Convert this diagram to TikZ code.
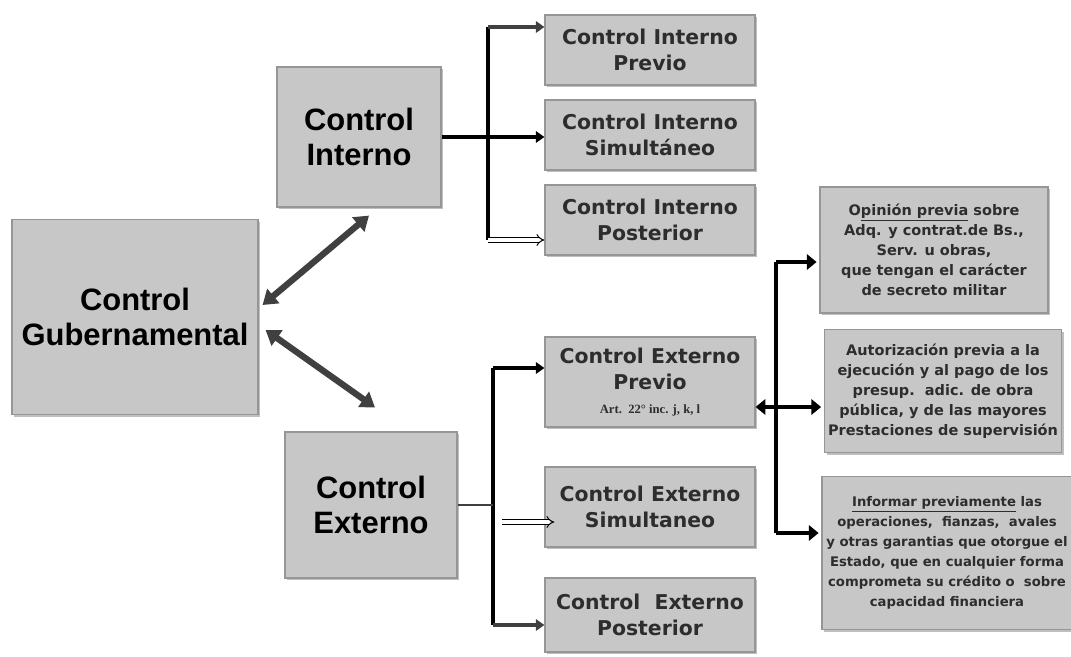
\documentclass[tikz,border=0pt]{standalone}
\usepackage{fontspec}
\setmainfont{Liberation Sans}
\newfontfamily\verd{DejaVu Sans}
\newfontfamily\tnr{Liberation Serif}
\usetikzlibrary{arrows.meta, shadows}
\definecolor{cajagris}{RGB}{199,199,199}
\definecolor{bordegris}{RGB}{150,150,150}
\definecolor{flechagris}{RGB}{64,64,64}
\definecolor{textogris}{RGB}{45,45,45}

\begin{document}
\begin{tikzpicture}[x=0.025cm, y=-0.025cm,
    caja/.style={draw=bordegris, fill=cajagris, line width=0.8pt, align=center, inner sep=2pt,
      drop shadow={shadow xshift=1.5pt, shadow yshift=-1.5pt, opacity=0.5}},
    grande/.style={caja, font=\fontsize{22}{25}\selectfont\bfseries},
    media/.style={caja, minimum width=5.25cm, text=textogris,
      font=\verd\fontsize{14.5}{19}\selectfont\bfseries},
    chica/.style={caja, text=textogris, font=\verd\fontsize{10.3}{14.2}\selectfont\bfseries},
    bus/.style={line width=2.8pt},
    flecha/.style={line width=2.2pt, -{Triangle[length=6pt,width=8pt]}},
    hueca/.style={double, double distance=2.2pt, line width=0.7pt, -{Implies}},
    gflecha/.style={line width=2.8pt, >={Triangle[length=7pt,width=11pt]}},
    diag/.style={flechagris, line width=4.5pt,
      {Triangle[length=10pt,width=13pt]}-{Triangle[length=10pt,width=13pt]}}]
    \useasboundingbox (0,0) rectangle (1071,657);
    % Cajas principales
    \node[grande, minimum width=6.15cm, minimum height=4.875cm] (gub) at (135,317) {Control\\Gubernamental};
    \node[grande, minimum width=4.1cm, minimum height=3.5cm] (ci) at (359,137) {Control\\Interno};
    \node[grande, minimum width=4.3cm, minimum height=3.65cm] (ce) at (371,505) {Control\\Externo};
    % Control interno
    \node[media, minimum height=1.75cm] (ciprev) at (650,50) {Control Interno\\Previo};
    \node[media, minimum height=1.75cm] (cisim) at (650,135) {Control Interno\\Simultáneo};
    \node[media, minimum height=1.75cm] (cipost) at (650,220) {Control Interno\\Posterior};
    % Control externo
    \node[media, minimum height=2.25cm] (ceprev) at (650,382)
        {Control Externo\\Previo\\[-2pt]{\tnr\fontsize{9}{11}\selectfont Art.\ \ 22° inc. j, k, l}};
    \node[media, minimum height=2cm] (cesim) at (650,507) {Control Externo\\Simultaneo};
    \node[media, minimum height=1.85cm] (cepost) at (650,615) {Control\ \ Externo\\Posterior};
    % Previo externo
    \node[chica, minimum width=5.7cm, minimum height=3.15cm] (opin) at (934,250)
        {O\underline{pinión previa} sobre\\Adq. y contrat.de Bs.,\\Serv. u obras,\\que tengan el carácter\\de secreto militar};
    \node[chica, minimum width=5.925cm, minimum height=3.075cm] (autor) at (943,391)
        {Autorización previa a la\\ejecución y al pago de los\\presup.\ \ adic. de obra\\pública, y de las mayores\\Prestaciones de supervisión};
    \node[chica, minimum width=6.25cm, minimum height=3.825cm, inner sep=0pt,
          font=\verd\fontsize{9.4}{14.2}\selectfont\bfseries] (inf) at (947,553)
        {\underline{Informar previamente} las\\operaciones,\ \ fianzas,\ \ avales\\y otras garantias que otorgue el\\Estado, que en cualquier forma\\comprometa su crédito o\ \ sobre\\capacidad financiera};
    % Flechas diagonales
    \draw[diag] ([shift={(4,-12)}]gub.east) -- ([shift={(10,8)}]ci.south);
    \draw[diag] ([shift={(7,13)}]gub.east) -- ([shift={(4,-24)}]ce.north);
    % Interno
    \coordinate (itop) at (488,27);
    \coordinate (ibot) at (488,240);
    \draw[bus] (itop) -- (ibot);
    \draw[flecha, flechagris] (itop) -- (itop -| ciprev.west);
    \draw[flecha] (ci.east) -- (ci.east -| cisim.west);
    \draw[hueca] (ibot) -- (ibot -| cipost.west);
    % Externo
    \coordinate (etop) at (493,368);
    \coordinate (ebot) at (493,625);
    \coordinate (esim) at (502,522);
    \draw[bus, line width=3.5pt] (etop) -- (ebot);
    \draw[flecha] (etop) -- (etop -| ceprev.west);
    \draw[line width=1.5pt, flechagris] (ce.east) -- (ce.east -| etop);
    \draw[hueca] (esim) -- ([xshift=0.25cm]esim -| cesim.west);
    \draw[flecha, flechagris] (ebot) -- (ebot -| cepost.west);
    % Derecha
    \coordinate (rtop) at (776,262);
    \coordinate (rmid) at (776,407);
    \coordinate (rbot) at (776,533);
    \draw[bus] (rtop) -- (rbot);
    \draw[gflecha, ->] (rtop) -- ([xshift=-2pt]rtop -| opin.west);
    \draw[gflecha, <->] (rmid -| ceprev.east) -- ([xshift=-2pt]rmid -| autor.west);
    \draw[gflecha, ->] (rbot) -- ([xshift=-2pt]rbot -| inf.west);
\end{tikzpicture}
\end{document}
